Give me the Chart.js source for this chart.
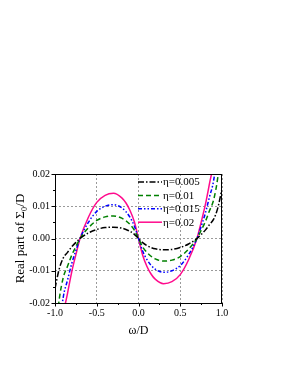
<!DOCTYPE html>
<html><head><meta charset="utf-8">
<script src="https://cdn.jsdelivr.net/npm/chart.js@4"></script>
<style>html,body{margin:0;padding:0;background:#fff;}#wrap{width:291px;height:376px;}</style>
</head><body><div id="wrap"><canvas id="c" width="291" height="376"></canvas></div>
<script>
const omega = [-1.0,-0.95,-0.9,-0.85,-0.8,-0.75,-0.7,-0.6,-0.5,-0.4,-0.3,-0.2,-0.15,-0.1,-0.05,0,0.05,0.1,0.15,0.2,0.3,0.4,0.5,0.6,0.7,0.75,0.8,0.85,0.9,0.95,1.0];
const eta005 = [-0.0155,-0.0095,-0.006,-0.0043,-0.0026,-0.0012,0,0.0017,0.0028,0.0034,0.0035,0.0032,0.0028,0.0022,0.0013,0,-0.0013,-0.0022,-0.0028,-0.0032,-0.0035,-0.0034,-0.0028,-0.0017,0,0.0012,0.0026,0.0043,0.006,0.0095,0.0155];
const eta010 = [-0.031,-0.019,-0.012,-0.0086,-0.0052,-0.0025,0,0.0033,0.0056,0.0067,0.0070,0.0063,0.0055,0.0043,0.0026,0,-0.0026,-0.0043,-0.0055,-0.0063,-0.0070,-0.0067,-0.0056,-0.0033,0,0.0025,0.0052,0.0086,0.012,0.019,0.031];
const eta015 = [-0.0465,-0.0285,-0.018,-0.0129,-0.0078,-0.0037,0,0.005,0.0084,0.0100,0.0105,0.0095,0.0083,0.0065,0.0039,0,-0.0039,-0.0065,-0.0083,-0.0095,-0.0105,-0.0100,-0.0084,-0.005,0,0.0037,0.0078,0.0129,0.018,0.0285,0.0465];
const eta020 = [-0.062,-0.038,-0.024,-0.017,-0.0104,-0.005,0,0.0066,0.0112,0.0134,0.0140,0.0126,0.0110,0.0086,0.0052,0,-0.0052,-0.0086,-0.0110,-0.0126,-0.0140,-0.0134,-0.0112,-0.0066,0,0.005,0.0104,0.017,0.024,0.038,0.062];
const seriesLabels = ['η=0.005','η=0.01','η=0.015','η=0.02'];
const xTicks = [-1.0,-0.5,0.0,0.5,1.0];
const yTicks = [-0.02,-0.01,0.00,0.01,0.02];

const styles = [
  {c:'#000000', d:[6,2,1.5,2]},
  {c:'#008000', d:[5,3]},
  {c:'#0000ff', d:[4,2,1.5,2,1.5,2]},
  {c:'#ff0a8c', d:[]}
];
const allY = [eta005, eta010, eta015, eta020];
const datasets = allY.map((arr,i)=>({
  label: seriesLabels[i],
  data: omega.map((x,j)=>({x:x, y:arr[j]})),
  borderColor: styles[i].c,
  borderDash: styles[i].d,
  borderWidth: 1.5,
  pointRadius: 0,
  tension: 0.4,
  cubicInterpolationMode: 'monotone',
  fill: false,
  clip: 0
}));

const serif = '"Liberation Serif","DejaVu Serif",serif';

const framePlugin = {
  id: 'frame',
  afterDraw(chart) {
    const {ctx, chartArea: a, scales} = chart;
    ctx.save();
    ctx.strokeStyle = '#000';
    ctx.lineWidth = 1;
    ctx.setLineDash([]);
    ctx.strokeRect(a.left + 0.5, a.top + 0.5, a.right - a.left - 1, a.bottom - a.top);
    // outward ticks on bottom and left
    ctx.beginPath();
    for (let v = -1; v <= 1.0001; v += 0.25) {
      const px = Math.round(scales.x.getPixelForValue(v)) + 0.5;
      const len = Math.abs((v * 2) - Math.round(v * 2)) < 1e-6 ? 3.5 : 2;
      ctx.moveTo(px, a.bottom); ctx.lineTo(px, a.bottom + len);
    }
    for (let v = -0.02; v <= 0.02001; v += 0.005) {
      const py = Math.round(scales.y.getPixelForValue(v)) + 0.5;
      const len = Math.abs((v * 100) - Math.round(v * 100)) < 1e-6 ? 3.5 : 2;
      ctx.moveTo(a.left, py); ctx.lineTo(a.left - len, py);
    }
    ctx.stroke();
    // legend
    const lx = a.left + (a.right - a.left) * 0.5 - 0.5;
    const ly0 = a.top + 8;
    const step = 13.4;
    ctx.font = '11px ' + serif;
    ctx.textBaseline = 'middle';
    ctx.textAlign = 'left';
    chart.data.datasets.forEach((ds, i) => {
      const y = ly0 + i * step;
      ctx.strokeStyle = ds.borderColor;
      ctx.lineWidth = 1.5;
      ctx.setLineDash(ds.borderDash);
      ctx.beginPath();
      ctx.moveTo(lx, y); ctx.lineTo(lx + 24, y);
      ctx.stroke();
      ctx.setLineDash([]);
      ctx.fillStyle = '#000';
      ctx.fillText(ds.label, lx + 25, y + 0.5);
    });
    ctx.restore();
  }
};

new Chart(document.getElementById('c'), {
  type: 'line',
  data: { datasets },
  options: {
    responsive: false,
    animation: false,
    layout: { padding: { top: 174, left: 0, right: 69, bottom: 38 } },
    plugins: { legend: { display: false }, tooltip: { enabled: false } },
    scales: {
      x: {
        type: 'linear', min: -1, max: 1,
        afterFit: s => { s.height = 35; },
        afterBuildTicks: s => { s.ticks = xTicks.map(v => ({value: v})); },
        ticks: { font: { family: serif, size: 10 }, color: '#000', padding: 4, maxRotation: 0,
                 callback: v => v.toFixed(1) },
        grid: { color: '#9a9a9a', drawTicks: false, lineWidth: 1 },
        border: { display: false, dash: [2, 2] },
        title: { display: true, text: 'ω/D', font: { family: serif, size: 12 }, color: '#000', padding: { top: 0, bottom: 0 } }
      },
      y: {
        type: 'linear', min: -0.02, max: 0.02,
        afterFit: s => { s.width = 55; },
        afterBuildTicks: s => { s.ticks = yTicks.map(v => ({value: v})); },
        ticks: { font: { family: serif, size: 10 }, color: '#000', padding: 5,
                 callback: v => v.toFixed(2) },
        grid: { color: '#9a9a9a', drawTicks: false, lineWidth: 1 },
        border: { display: false, dash: [2, 2] },
        title: { display: true, text: 'Real part of Σ₀/D', font: { family: serif, size: 13 }, color: '#000', padding: { top: 13, bottom: 0 } }
      }
    }
  },
  plugins: [framePlugin]
});
</script>
</body></html>
